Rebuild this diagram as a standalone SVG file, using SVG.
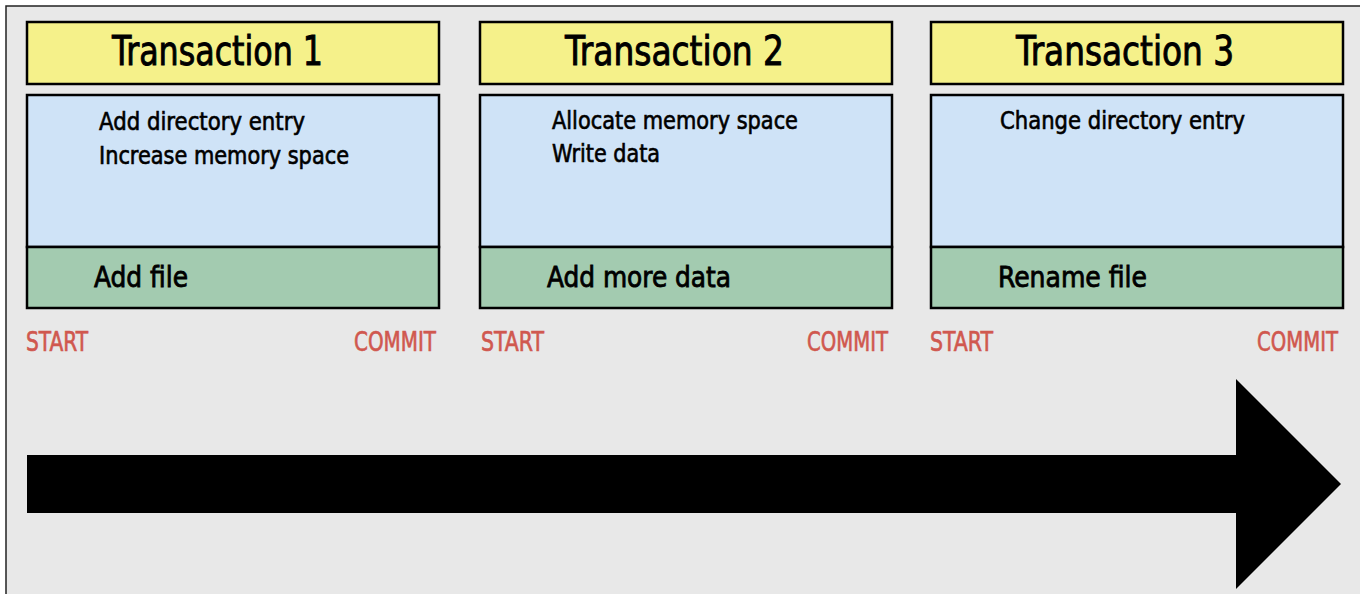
<svg xmlns="http://www.w3.org/2000/svg" width="1360" height="594" viewBox="0 0 1360 594">
<style>
text{font-family:"DejaVu Sans Condensed","Liberation Sans Narrow","Liberation Sans",Arial,sans-serif;font-stretch:condensed;fill:#000;stroke:#000;stroke-width:0.6}
.box{stroke:#000;stroke-width:2.5}
.title{font-size:40px;stroke-width:0.9}
.item{font-size:24px}
.act{font-size:29px;stroke-width:0.8}
.lbl{font-size:26px;fill:#d0584f;stroke:#d0584f}
</style>
<rect x="0" y="0" width="1360" height="594" fill="#fff"/>
<rect x="6" y="6" width="1360" height="600" fill="#e8e8e8" stroke="#222" stroke-width="1.5"/>
<g id="tx1">
<rect class="box" x="27" y="22" width="412" height="62" fill="#f5f18a"/>
<rect class="box" x="27" y="95" width="412" height="152" fill="#cfe3f7"/>
<rect class="box" x="27" y="247" width="412" height="61" fill="#a3cbb0"/>
<text class="title" x="112" y="65" textLength="211" lengthAdjust="spacingAndGlyphs">Transaction 1</text>
<text class="item" x="99" y="130" textLength="206" lengthAdjust="spacingAndGlyphs">Add directory entry</text>
<text class="item" x="99" y="164" textLength="250" lengthAdjust="spacingAndGlyphs">Increase memory space</text>
<text class="act" x="94" y="287" textLength="94" lengthAdjust="spacingAndGlyphs">Add file</text>
<text class="lbl" x="26" y="351" textLength="62" lengthAdjust="spacingAndGlyphs">START</text>
<text class="lbl" x="354" y="351" textLength="82" lengthAdjust="spacingAndGlyphs">COMMIT</text>
</g>
<g id="tx2">
<rect class="box" x="480" y="22" width="412" height="62" fill="#f5f18a"/>
<rect class="box" x="480" y="95" width="412" height="152" fill="#cfe3f7"/>
<rect class="box" x="480" y="247" width="412" height="61" fill="#a3cbb0"/>
<text class="title" x="565" y="65" textLength="219" lengthAdjust="spacingAndGlyphs">Transaction 2</text>
<text class="item" x="552" y="129" textLength="246" lengthAdjust="spacingAndGlyphs">Allocate memory space</text>
<text class="item" x="552" y="162" textLength="108" lengthAdjust="spacingAndGlyphs">Write data</text>
<text class="act" x="547" y="287" textLength="184" lengthAdjust="spacingAndGlyphs">Add more data</text>
<text class="lbl" x="481" y="351" textLength="63" lengthAdjust="spacingAndGlyphs">START</text>
<text class="lbl" x="807" y="351" textLength="81" lengthAdjust="spacingAndGlyphs">COMMIT</text>
</g>
<g id="tx3">
<rect class="box" x="931" y="22" width="412" height="62" fill="#f5f18a"/>
<rect class="box" x="931" y="95" width="412" height="152" fill="#cfe3f7"/>
<rect class="box" x="931" y="247" width="412" height="61" fill="#a3cbb0"/>
<text class="title" x="1016" y="65" textLength="218" lengthAdjust="spacingAndGlyphs">Transaction 3</text>
<text class="item" x="1000" y="129" textLength="245" lengthAdjust="spacingAndGlyphs">Change directory entry</text>
<text class="act" x="998" y="287" textLength="149" lengthAdjust="spacingAndGlyphs">Rename file</text>
<text class="lbl" x="930" y="351" textLength="63" lengthAdjust="spacingAndGlyphs">START</text>
<text class="lbl" x="1257" y="351" textLength="81" lengthAdjust="spacingAndGlyphs">COMMIT</text>
</g>
<g id="connectors">
<polygon points="27,455 1236,455 1236,379 1341,484 1236,589 1236,513 27,513" fill="#000"/>
</g>
</svg>
